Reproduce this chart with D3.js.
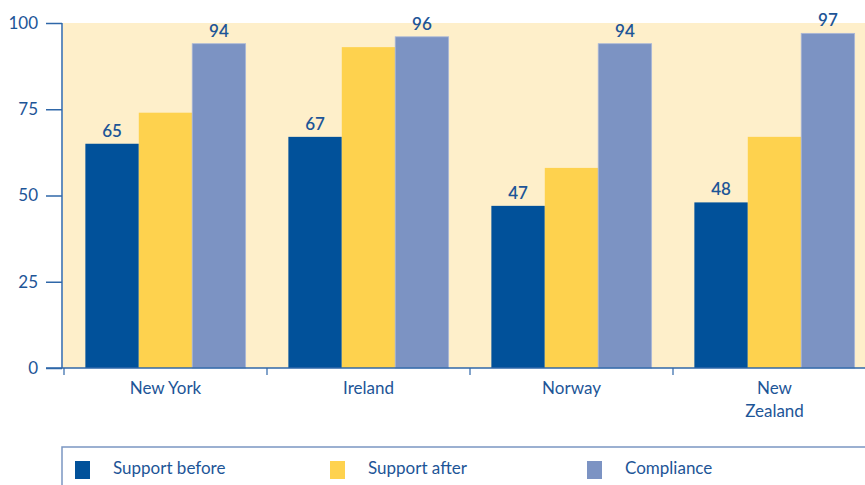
<!DOCTYPE html>
<html><head><meta charset="utf-8">
<script src="https://cdn.jsdelivr.net/npm/d3@7"></script>
<style>
body{margin:0;background:#fff;overflow:hidden}
svg{display:block}
text{font-family:Lato,"Open Sans",sans-serif;fill:#1d5597}
</style></head>
<body><svg id="c" width="865" height="485"></svg>
<script>
const categories = ["New York","Ireland","Norway","New Zealand"];
const seriesNames = ["Support before","Support after","Compliance"];
const supportBefore = [65,67,47,48];
const supportAfter = [74,93,58,67];
const compliance = [94,96,94,97];
const yTicks = [0,25,50,75,100];

const colors = ["#01519a","#fed24e","#7c93c3"];
const seriesData = [supportBefore, supportAfter, compliance];

const svg = d3.select("#c");
const x0 = 64, bandW = 203;
const x = d3.scaleBand().domain(categories).range([x0, x0 + bandW*categories.length]).padding(0);
const xi = d3.scaleBand().domain(seriesNames).range([0, bandW]).paddingOuter(0.4).paddingInner(0);
const y = d3.scaleLinear().domain([0,100]).range([368,23]);

// background
svg.append("rect").attr("x",63).attr("y",y(100)).attr("width",865-63).attr("height",y(0)-y(100)).attr("fill","#feefca");

// bars
categories.forEach((c,ci)=>{
  seriesNames.forEach((s,si)=>{
    const v = seriesData[si][ci];
    svg.append("rect")
      .attr("x", x(c)+xi(s)).attr("y", y(v))
      .attr("width", xi.bandwidth()).attr("height", y(0)-y(v))
      .attr("fill", colors[si])
      .attr("stroke", si===2 ? "#aab8d8" : "none").attr("stroke-width", si===2?0.8:0);
    if (si !== 1) {
      svg.append("text").attr("x", x(c)+xi(s)+xi.bandwidth()/2).attr("y", y(v)-7)
        .attr("text-anchor","middle").attr("font-size",17).attr("font-weight",600).text(v);
    }
  });
});

// y axis
const yAxis = d3.axisLeft(y).tickValues(yTicks).tickSize(16).tickPadding(8);
const gy = svg.append("g").attr("transform","translate(62,0)").call(yAxis);
gy.select(".domain").remove();
gy.append("line").attr("x1",0).attr("x2",0).attr("y1",y(100)).attr("y2",y(0)).attr("stroke","#2f67a8").attr("stroke-width",1.5);
gy.selectAll(".tick line").attr("stroke","#2f67a8").attr("stroke-width",1.5);
gy.selectAll(".tick text").attr("font-size",17).attr("fill","#1d5597").style("font-family","Lato,'Open Sans',sans-serif");

// x axis baseline
svg.append("line").attr("x1",46).attr("x2",865).attr("y1",y(0)).attr("y2",y(0)).attr("stroke","#2f67a8").attr("stroke-width",1.5);
// x ticks at category boundaries
d3.range(categories.length+1).forEach(i=>{
  const tx = x0 + i*bandW;
  if (tx < 865) svg.append("line").attr("x1",tx).attr("x2",tx).attr("y1",y(0)).attr("y2",y(0)+7).attr("stroke","#2f67a8").attr("stroke-width",1.2);
});
// category labels
categories.forEach(c=>{
  const words = c === "New Zealand" ? ["New","Zealand"] : [c];
  words.forEach((w,wi)=>{
    svg.append("text").attr("x", x(c)+bandW/2).attr("y", 394 + wi*23)
      .attr("text-anchor","middle").attr("font-size",17).text(w);
  });
});

// legend
svg.append("path").attr("d","M62,485 V447 H865").attr("fill","none").attr("stroke","#7b97c2").attr("stroke-width",1.5);
const legX = [75, 330, 587];
seriesNames.forEach((s,si)=>{
  svg.append("rect").attr("x",legX[si]).attr("y",461).attr("width",15).attr("height",18).attr("fill",colors[si]);
  svg.append("text").attr("x",legX[si]+38).attr("y",474).attr("font-size",17).text(s);
});
</script></body></html>
